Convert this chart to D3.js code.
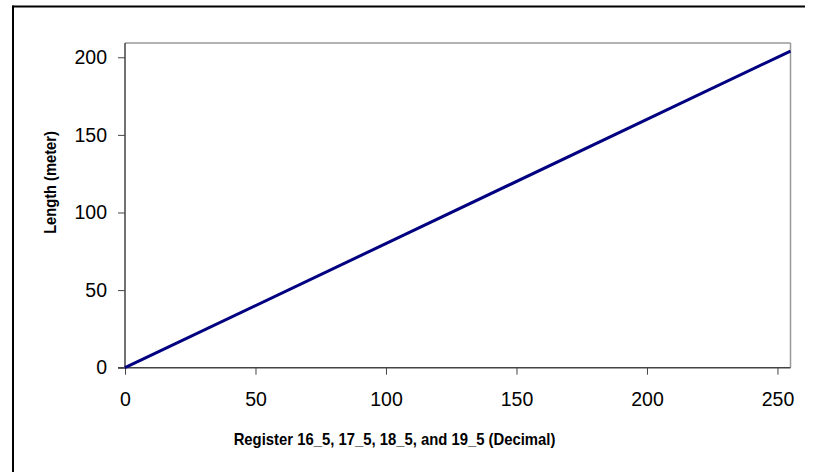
<!DOCTYPE html>
<html><head><meta charset="utf-8">
<script src="https://cdn.jsdelivr.net/npm/d3@7/dist/d3.min.js"></script>
<style>body{margin:0;background:#fff}svg{display:block}text{font-family:"Liberation Sans",Arial,sans-serif}</style>
</head><body>
<svg id="c" width="814" height="472"></svg>
<script>
const registerValues = [0, 255];
const lengthValues = [0, 204];
const xTicks = [0, 50, 100, 150, 200, 250];
const yTicks = [0, 50, 100, 150, 200];
const xTitle = "Register 16_5, 17_5, 18_5, and 19_5 (Decimal)";
const yTitle = "Length (meter)";

const svg = d3.select("#c");
const L = 125, R = 790.5, T = 43, B = 367.7;
const x = d3.scaleLinear().domain([0, 255]).range([L, R]);
const y = d3.scaleLinear().domain([0, 209.2]).range([B, T]);

// outer frame (top and left visible)
svg.append("line").attr("x1", 12.5).attr("x2", 805).attr("y1", 6.5).attr("y2", 6.5).attr("stroke", "#000").attr("stroke-width", 2);
svg.append("line").attr("x1", 13).attr("x2", 13).attr("y1", 5.5).attr("y2", 472).attr("stroke", "#000").attr("stroke-width", 2);

// plot frame top/right
svg.append("line").attr("x1", L).attr("x2", R).attr("y1", T).attr("y2", T).attr("stroke", "#999").attr("stroke-width", 1.5);
svg.append("line").attr("x1", R).attr("x2", R).attr("y1", T).attr("y2", B).attr("stroke", "#999").attr("stroke-width", 1.5);

const xAxis = svg.append("g").attr("transform", `translate(0,${B})`)
  .call(d3.axisBottom(x).tickValues(xTicks).tickSize(7).tickSizeOuter(0).tickPadding(17));
const yAxis = svg.append("g").attr("transform", `translate(${L},0)`)
  .call(d3.axisLeft(y).tickValues(yTicks).tickSize(7).tickSizeOuter(0).tickPadding(11));
[xAxis, yAxis].forEach(g => {
  g.attr("font-size", 19.5).attr("font-family", "Liberation Sans, Arial, sans-serif");
  g.select(".domain").attr("stroke", "#444").attr("stroke-width", 1.5);
  g.selectAll(".tick line").attr("stroke", "#444").attr("stroke-width", 1);
  g.selectAll(".tick text").attr("fill", "#000");
});
yAxis.select(".domain").attr("d", `M0,${B}V${T}`);
xAxis.select(".domain").attr("d", `M${L - 7},0H${R}`);

// line
const data = registerValues.map((v, i) => ({ r: v, l: lengthValues[i] }));
svg.append("path").datum(data)
  .attr("d", d3.line().x(d => x(d.r)).y(d => y(d.l)))
  .attr("fill", "none").attr("stroke", "#000080").attr("stroke-width", 3);

svg.append("text").attr("transform", "translate(394.5,445) scale(0.9,1)").attr("text-anchor", "middle")
  .attr("font-size", 16.5).attr("font-weight", "bold").text(xTitle);
svg.append("text").attr("transform", "translate(55.7,182.5) rotate(-90) scale(0.89,1)").attr("text-anchor", "middle")
  .attr("font-size", 16.5).attr("font-weight", "bold").text(yTitle);
</script>
</body></html>
